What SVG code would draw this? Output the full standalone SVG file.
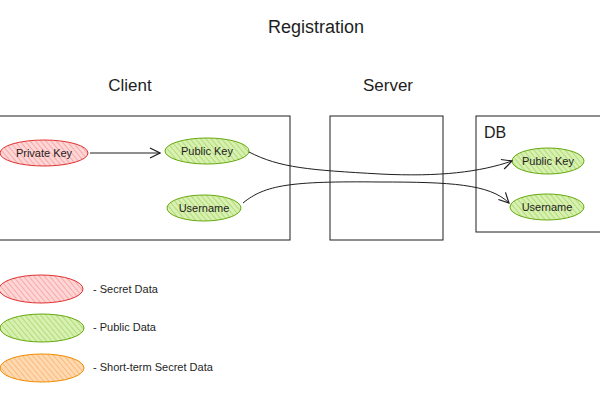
<svg xmlns="http://www.w3.org/2000/svg" width="600" height="400" viewBox="0 0 600 400">
<style>
text{font-family:"Liberation Sans",Arial,sans-serif;fill:#1e1e1e}
.t{font-size:11px;text-anchor:middle}
.h{font-size:17px;text-anchor:middle}
.lg{font-size:11px}
.box{fill:none;stroke:#1e1e1e;stroke-width:1}
.red{fill:url(#hr);stroke:#e03131;stroke-width:1}
.green{fill:url(#hg);stroke:#66a80f;stroke-width:1}
.orange{fill:url(#ho);stroke:#f08c00;stroke-width:1}
.c{fill:none;stroke:#1e1e1e;stroke-width:1}
</style>
<defs>
<pattern id="hr" width="4" height="4" patternUnits="userSpaceOnUse" patternTransform="rotate(-40)"><rect width="4" height="4" fill="#ffd6d6"/><line x1="0" y1="0" x2="0" y2="4" stroke="#f08a8a" stroke-width="1.2"/></pattern>
<pattern id="hg" width="4" height="4" patternUnits="userSpaceOnUse" patternTransform="rotate(-40)"><rect width="4" height="4" fill="#d8f0b0"/><line x1="0" y1="0" x2="0" y2="4" stroke="#9bcf5a" stroke-width="1.2"/></pattern>
<pattern id="ho" width="4" height="4" patternUnits="userSpaceOnUse" patternTransform="rotate(-40)"><rect width="4" height="4" fill="#ffd9b0"/><line x1="0" y1="0" x2="0" y2="4" stroke="#f7a65e" stroke-width="1.2"/></pattern>
<marker id="ar" viewBox="0 0 12 12" refX="11" refY="6" markerWidth="12" markerHeight="12" markerUnits="userSpaceOnUse" orient="auto"><path d="M1 1 L11 6 L1 11" fill="none" stroke="#1e1e1e" stroke-width="1.2"/></marker>
</defs>
<text x="316" y="33" class="h" style="font-size:18px">Registration</text>
<text x="130" y="91" class="h">Client</text>
<text x="388" y="91" class="h">Server</text>
<g id="client"><rect x="-2" y="116" width="292" height="124" class="box"/></g>
<g id="server"><rect x="330" y="116" width="113" height="124" class="box"/></g>
<g id="db"><rect x="476" y="116" width="130" height="116" class="box"/><text x="484" y="138" style="font-size:16px">DB</text></g>
<g id="private-key"><ellipse cx="44" cy="153" rx="44" ry="13" class="red"/><text x="44" y="157" class="t">Private Key</text></g>
<g id="public-key"><ellipse cx="207" cy="151" rx="42" ry="13" class="green"/><text x="207" y="155" class="t">Public Key</text></g>
<g id="username"><ellipse cx="204" cy="208" rx="37" ry="13" class="green"/><text x="204" y="212" class="t">Username</text></g>
<g id="db-public-key"><ellipse cx="548" cy="161" rx="36" ry="13" class="green"/><text x="548" y="165" class="t">Public Key</text></g>
<g id="db-username"><ellipse cx="547" cy="207" rx="37" ry="13" class="green"/><text x="547" y="211" class="t">Username</text></g>
<g id="connectors">
<path d="M90 153 L160 153" class="c" marker-end="url(#ar)"/>
<path d="M249 152 C280 168 310 170 380 174 C440 177 480 172 512 161" class="c" marker-end="url(#ar)"/>
<path d="M243 203 C265 185 290 181 380 182 C450 182 490 184 509 203" class="c" marker-end="url(#ar)"/>
</g>
<g id="legend">
<ellipse cx="41" cy="289" rx="42" ry="14" class="red"/>
<text x="93" y="293" class="lg">- Secret Data</text>
<ellipse cx="42" cy="328" rx="42" ry="14" class="green"/>
<text x="93" y="331" class="lg">- Public Data</text>
<ellipse cx="42" cy="368" rx="42" ry="14" class="orange"/>
<text x="93" y="371" class="lg">- Short-term Secret Data</text>
</g>
</svg>
